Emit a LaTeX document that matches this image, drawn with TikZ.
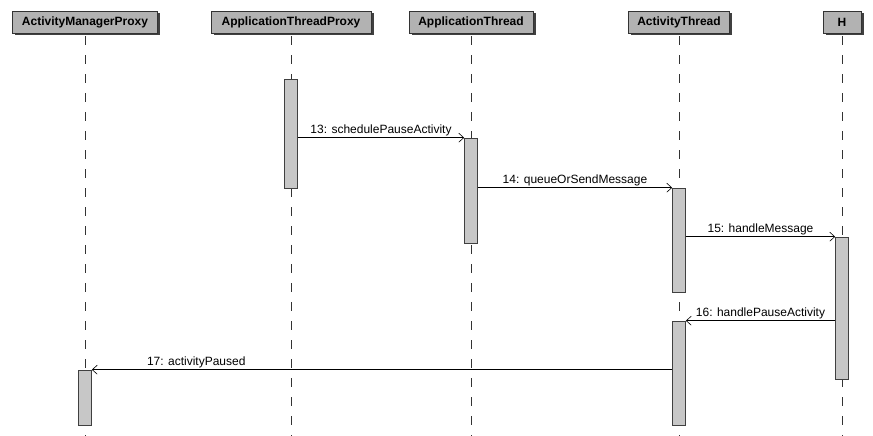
\documentclass[tikz,border=0pt]{standalone}
\usepackage{fontspec}
\setmainfont{Liberation Sans}
\usetikzlibrary{arrows.meta,shadows}
\tikzset{
  lifebox/.style={draw=black!80, fill=black!30, minimum height=22pt, inner sep=2pt, font=\bfseries\fontsize{12}{14}\selectfont,
    drop shadow={shadow xshift=2.5pt, shadow yshift=-2.5pt, fill=black!75, opacity=1}},
  lifeline/.style={dash pattern=on 9pt off 10pt, line width=0.6pt, black!80},
  actbar/.style={draw=black!75, fill=black!22, minimum width=13pt, inner sep=0pt, line width=0.6pt},
  msg/.style={-{Straight Barb[length=5pt, width=9pt]}, line width=0.6pt},
  msglabel/.style={above, inner sep=1.5pt, font=\fontsize{12}{14}\selectfont},
}
\begin{document}
\begin{tikzpicture}[x=1pt, y=-1pt]
  \useasboundingbox (0,0) rectangle (873,436);
  \coordinate (bottom) at (0,436);
  % object headers
  \node[lifebox, minimum width=145pt] (amp) at (85,22) {ActivityManagerProxy};
  \node[lifebox, minimum width=160pt] (atp) at (291,22) {ApplicationThreadProxy};
  \node[lifebox, minimum width=124pt] (at) at (471,22) {ApplicationThread};
  \node[lifebox, minimum width=101pt] (actt) at (679,22) {ActivityThread};
  \node[lifebox, minimum width=38pt] (h) at (842,22) {H};
  % lifelines
  \foreach \obj in {amp,atp,at,actt,h}
    \draw[lifeline] ([yshift=-3pt]\obj.south) -- (\obj |- bottom);
  % activations
  \node[actbar, minimum height=109pt] (atpbar) at (291,133.5) {};
  \node[actbar, minimum height=105pt] (atbar) at (471,190.5) {};
  \node[actbar, minimum height=104pt] (acttbarA) at (679,240) {};
  \node[actbar, minimum height=142pt] (hbar) at (842,308) {};
  \node[actbar, minimum height=104pt] (acttbarB) at (679,373) {};
  \node[actbar, minimum height=55pt] (ampbar) at (85,397.5) {};
  % messages
  \draw[msg] (atpbar.east |- atbar.north) -- (atbar.north west)
    node[msglabel, midway] {13: schedulePauseActivity};
  \draw[msg] (atbar.east |- acttbarA.north) -- (acttbarA.north west)
    node[msglabel, midway] {14: queueOrSendMessage};
  \draw[msg] (acttbarA.east |- hbar.north) -- (hbar.north west)
    node[msglabel, midway] {15: handleMessage};
  \draw[msg] (hbar.west |- acttbarB.north) -- (acttbarB.north east)
    node[msglabel, midway] {16: handlePauseActivity};
  \draw[msg] (acttbarB.west |- ampbar.north) -- (ampbar.north east)
    node[msglabel, pos=0.82] {17: activityPaused};
\end{tikzpicture}
\end{document}
